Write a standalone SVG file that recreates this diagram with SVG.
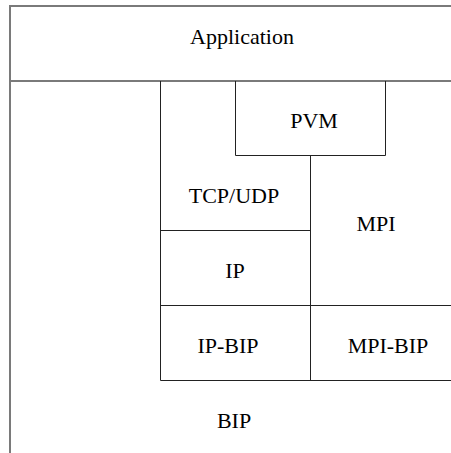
<svg xmlns="http://www.w3.org/2000/svg" width="451" height="453" viewBox="0 0 451 453">
  <rect width="451" height="453" fill="#fff"/>
  <g id="connectors" stroke="#7a7a7a" stroke-width="2" fill="none">
    <!-- outer frame: top edge, left edge, application divider -->
    <line x1="10" y1="6" x2="451" y2="6"/>
    <line x1="10" y1="5" x2="10" y2="453"/>
    <line x1="10" y1="81" x2="451" y2="81"/>
  </g>
  <g font-family="Liberation Serif" font-size="22" text-anchor="middle" fill="#000">
    <g id="application">
      <text x="242" y="44">Application</text>
    </g>
    <g id="pvm">
      <polyline points="235.5,81 235.5,155.5 385.5,155.5 385.5,81" fill="none" stroke="#222"/>
      <text x="314" y="128">PVM</text>
    </g>
    <g id="tcpudp">
      <path d="M160.5 81V380.5M160.5 230.5H310.5" fill="none" stroke="#222"/>
      <text x="234" y="203">TCP/UDP</text>
    </g>
    <g id="mpi">
      <path d="M310.5 155.5V380.5" fill="none" stroke="#222"/>
      <text x="376" y="231">MPI</text>
    </g>
    <g id="ip">
      <path d="M160.5 305.5H451" fill="none" stroke="#222"/>
      <text x="235" y="278">IP</text>
    </g>
    <g id="ipbip">
      <path d="M160.5 380.5H451" fill="none" stroke="#222"/>
      <text x="228" y="353">IP-BIP</text>
    </g>
    <g id="mpibip">
      <text x="388" y="353">MPI-BIP</text>
    </g>
    <g id="bip">
      <text x="234" y="428">BIP</text>
    </g>
  </g>
</svg>
